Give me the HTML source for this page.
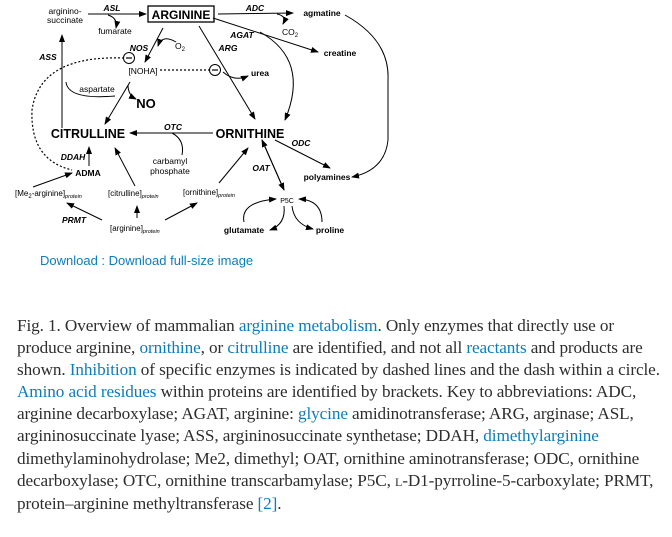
<!DOCTYPE html>
<html><head><meta charset="utf-8"><style>
body{margin:0;width:672px;height:537px;background:#fff;overflow:hidden;position:relative;font-family:"Liberation Sans",sans-serif}
svg{position:absolute;left:0;top:0}
.dl{position:absolute;left:40px;top:253px;font-size:13px;color:#0c7dbb}
.cap{position:absolute;left:17px;top:315px;font-family:"Liberation Serif",serif;font-size:17.2px;line-height:22.1px;color:#2e2e2e;white-space:nowrap;letter-spacing:-0.1px}
.cap a{color:#0c7dbb;text-decoration:none}
</style></head><body>
<svg width="672" height="250" viewBox="0 0 672 250" font-family="Liberation Sans, sans-serif" font-size="8.5">
<defs><marker id="a" markerWidth="8" markerHeight="6" refX="7" refY="3" orient="auto" markerUnits="userSpaceOnUse"><path d="M0,0 L8,3 L0,6z" fill="#000"/></marker></defs>
<g stroke="#000" stroke-width="1" fill="none" marker-end="url(#a)">
<path d="M88,14 L146,14"/>
<path d="M108,15 Q118,18 116,28"/>
<path d="M218,14 L293,13"/>
<path d="M277,14 Q287,16 283,24"/>
<path d="M213,18 L318,52"/>
<path d="M163,28 L145,62"/>
<path d="M176,42 Q162,34 158,46"/>
<path d="M199,26 L255,119"/>
<path d="M223,72 Q234,82 248,76"/>
<path d="M260,32 Q310,60 285,120"/>
<path d="M345,15 Q390,40 388,80 L388,140 Q385,170 352,177"/>
<path d="M130,82 L105,124"/>
<path d="M128,85 Q128,95 136,99"/>
<path d="M62,128 L62,35"/>
<path d="M115,96 Q68,100 66,82" marker-end="none"/>
<path d="M213,133 L130,133"/>
<path d="M182,155 Q185,140 172,133" marker-end="none"/>
<path d="M275,140 L330,168"/>
<path d="M89,166 L89,147"/>
<path d="M33,187 L72,173"/>
<path d="M135,186 L115,148"/>
<path d="M102,220 L67,203"/>
<path d="M137,218 L137,206"/>
<path d="M165,220 L197,203"/>
<path d="M219,183 L248,148"/>
<path d="M284,190 L262,140"/>
<path d="M262,140 L284,190"/>
<path d="M244,222 Q240,202 276,199"/>
<path d="M284,206 Q286,224 270,230"/>
<path d="M322,222 Q322,200 299,199"/>
<path d="M292,206 Q294,224 313,229"/>
</g>
<g stroke="#000" stroke-width="1.2" fill="none" stroke-dasharray="2,2">
<path d="M124,58 Q40,55 32,110 Q30,160 72,170"/>
<path d="M160,70 L209,70"/>
</g>
<g stroke="#000" fill="#fff"><circle cx="129" cy="58" r="5.5"/><circle cx="215" cy="70" r="5.5"/></g>
<g stroke="#000" stroke-width="1.2"><line x1="126" y1="58" x2="132" y2="58"/><line x1="212" y1="70" x2="218" y2="70"/></g>
<rect x="148" y="6" width="66" height="16" fill="none" stroke="#000" stroke-width="1.3"/>
<text x="181" y="19" font-size="12" font-weight="bold" text-anchor="middle">ARGININE</text>
<g text-anchor="middle">
<text x="65" y="14">arginino-</text><text x="65" y="23">succinate</text>
<text x="115" y="34">fumarate</text>
<text x="290" y="35">CO<tspan font-size="6" dy="2">2</tspan></text>
<text x="180" y="49">O<tspan font-size="6" dy="2">2</tspan></text>
<text x="143" y="74">[NOHA]</text>
<text x="97" y="92">aspartate</text>
<text x="170" y="164">carbamyl</text><text x="170" y="174">phosphate</text>
<text x="287" y="203" font-size="7">P5C</text>
</g>
<g font-weight="bold" text-anchor="middle">
<text x="322" y="16">agmatine</text>
<text x="340" y="56">creatine</text>
<text x="260" y="76">urea</text>
<text x="146" y="108" font-size="13">NO</text>
<text x="88" y="138" font-size="12.5">CITRULLINE</text>
<text x="250" y="138" font-size="12.5">ORNITHINE</text>
<text x="327" y="180">polyamines</text>
<text x="88" y="176">ADMA</text>
<text x="244" y="233">glutamate</text>
<text x="330" y="233">proline</text>
</g>
<g font-weight="bold" font-style="italic" text-anchor="middle">
<text x="112" y="11">ASL</text><text x="255" y="11">ADC</text><text x="242" y="38">AGAT</text>
<text x="228" y="51">ARG</text><text x="139" y="51">NOS</text><text x="48" y="60">ASS</text>
<text x="173" y="130">OTC</text><text x="301" y="146">ODC</text><text x="73" y="160">DDAH</text>
<text x="261" y="171">OAT</text><text x="74" y="223">PRMT</text>
</g>
<g font-size="8">
<text x="15" y="196">[Me<tspan font-size="6" dy="2">2</tspan><tspan dy="-2">-arginine]</tspan><tspan font-size="5.5" font-style="italic" dy="2">protein</tspan></text>
<text x="108" y="196">[citrulline]<tspan font-size="5.5" font-style="italic" dy="2">protein</tspan></text>
<text x="183" y="195">[ornithine]<tspan font-size="5.5" font-style="italic" dy="2">protein</tspan></text>
<text x="110" y="231">[arginine]<tspan font-size="5.5" font-style="italic" dy="2">protein</tspan></text>
</g>
</svg>
<div class="dl">Download : Download full-size image</div>
<div class="cap">Fig. 1. Overview of mammalian <a>arginine metabolism</a>. Only enzymes that directly use or<br>produce arginine, <a>ornithine</a>, or <a>citrulline</a> are identified, and not all <a>reactants</a> and products are<br>shown. <a>Inhibition</a> of specific enzymes is indicated by dashed lines and the dash within a circle.<br><a>Amino acid residues</a> within proteins are identified by brackets. Key to abbreviations: ADC,<br>arginine decarboxylase; AGAT, arginine: <a>glycine</a> amidinotransferase; ARG, arginase; ASL,<br>argininosuccinate lyase; ASS, argininosuccinate synthetase; DDAH, <a>dimethylarginine</a><br>dimethylaminohydrolase; Me2, dimethyl; OAT, ornithine aminotransferase; ODC, ornithine<br>decarboxylase; OTC, ornithine transcarbamylase; P5C, <span style="font-size:12px">L</span>-D1-pyrroline-5-carboxylate; PRMT,<br>protein–arginine methyltransferase <a>[2]</a>.</div>
</body></html>
